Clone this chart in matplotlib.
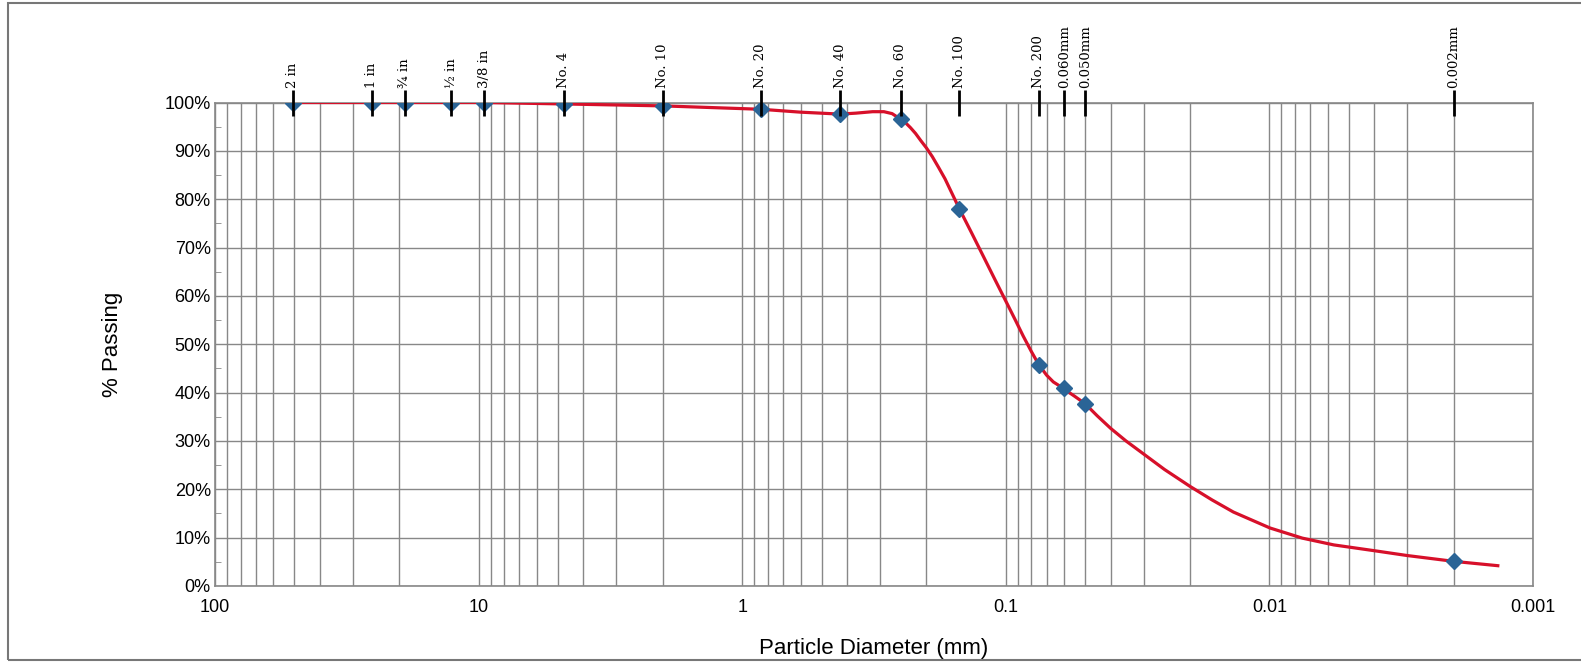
import numpy as np
import matplotlib.pyplot as plt
from matplotlib.ticker import FixedLocator, FuncFormatter, LogLocator, MultipleLocator
from matplotlib.patches import Rectangle

# Sieve / hydrometer points (mm, % passing)
sieve_labels = ['2 in', '1 in', '¾ in', '½ in', '3/8 in', 'No. 4', 'No. 10', 'No. 20',
                'No. 40', 'No. 60', 'No. 100', 'No. 200', '0.060mm', '0.050mm', '0.002mm']
sieve_mm = [50.8, 25.4, 19.05, 12.7, 9.525, 4.75, 2.0, 0.85,
            0.425, 0.25, 0.15, 0.075, 0.060, 0.050, 0.002]
sieve_pct = [100, 100, 100, 100, 100, 99.7, 99.3, 98.6,
             97.6, 96.5, 78.0, 45.8, 40.9, 37.7, 5.1]

# Fitted curve
curve_mm = [50.8, 25.4, 19.05, 12.7, 9.525, 4.75, 2.0, 0.85, 0.6, 0.425, 0.37, 0.32,
            0.29, 0.27, 0.25, 0.24, 0.23, 0.22, 0.21, 0.20, 0.19, 0.18, 0.17, 0.16,
            0.15, 0.135, 0.1217, 0.11, 0.0993, 0.092, 0.0859, 0.080, 0.075, 0.070,
            0.066, 0.063, 0.060, 0.055, 0.050, 0.045, 0.040, 0.035, 0.030, 0.025,
            0.020, 0.0165, 0.0137, 0.00995, 0.0075, 0.0057, 0.0040, 0.0030, 0.002, 0.00136]
curve_pct = [100, 100, 100, 100, 100, 99.7, 99.3, 98.6, 98.0, 97.6, 97.8, 98.1,
             98.1, 97.7, 96.5, 95.8, 94.8, 93.6, 92.1, 90.6, 88.8, 86.6, 84.2, 81.2,
             78.0, 73.1, 68.2, 63.4, 58.6, 55.0, 51.7, 48.5, 45.8, 43.6,
             42.2, 41.5, 40.7, 39.3, 37.7, 35.2, 32.6, 30.0, 27.3, 24.1,
             20.6, 17.8, 15.3, 12.0, 9.9, 8.5, 7.3, 6.3, 5.1, 4.2]

plt.rcParams['font.family'] = ['Liberation Sans', 'DejaVu Sans']

fig = plt.figure(figsize=(15.81, 6.67), dpi=100)
fig.patches.append(Rectangle((8 / 1581, 1 - 660 / 667), 1.2, (660 - 3) / 667,
                             transform=fig.transFigure, fill=False,
                             edgecolor='#777777', linewidth=1.5))
ax = fig.add_axes([215 / 1581, 1 - 586 / 667, (1533 - 215) / 1581, (586 - 102.5) / 667])

ax.set_xscale('log')
ax.set_xlim(100, 0.001)
ax.set_ylim(0, 1)

grid_c = '#888888'
ax.xaxis.set_major_locator(LogLocator(base=10, numticks=10))
ax.xaxis.set_minor_locator(LogLocator(base=10, subs=np.arange(2, 10), numticks=10))
ax.xaxis.set_major_formatter(FuncFormatter(lambda v, p: f'{v:g}'))
ax.xaxis.set_minor_formatter(FuncFormatter(lambda v, p: ''))
ax.yaxis.set_major_locator(MultipleLocator(0.1))
ax.yaxis.set_minor_locator(MultipleLocator(0.05))
ax.yaxis.set_major_formatter(FuncFormatter(lambda v, p: f'{v * 100:.0f}%'))
ax.grid(True, which='major', color=grid_c, linewidth=1.0)
ax.grid(True, which='minor', axis='x', color=grid_c, linewidth=1.0)
ax.tick_params(axis='both', which='major', length=0, labelsize=13, pad=3)
ax.tick_params(axis='x', which='major', pad=9)
ax.tick_params(axis='x', which='minor', length=0)
ax.tick_params(axis='y', which='minor', direction='in', length=4, color=grid_c)
for s in ax.spines.values():
    s.set_color(grid_c)
    s.set_linewidth(1.2)

ax.plot(curve_mm, np.array(curve_pct) / 100, color='#d7102a', linewidth=2.3, zorder=3)
ax.plot(sieve_mm, np.array(sieve_pct) / 100, linestyle='none', marker='D',
        markersize=8, color='#2a6496', zorder=4)

ax.set_xlabel('Particle Diameter (mm)', fontsize=16, labelpad=16)
ax.set_ylabel('% Passing', fontsize=16, labelpad=30)

# Sieve names along the top
ax2 = ax.twiny()
ax2.set_xscale('log')
ax2.set_xlim(ax.get_xlim())
ax2.xaxis.set_major_locator(FixedLocator(sieve_mm))
ax2.xaxis.set_minor_locator(FixedLocator([]))
ax2.set_xticklabels(sieve_labels, rotation=90, family=['DejaVu Serif'], fontsize=9.5)
ax2.tick_params(axis='x', which='major', direction='inout', length=19, width=2,
                color='black', pad=1)
for s in ax2.spines.values():
    s.set_visible(False)

fig.savefig('out.png', dpi=100)
